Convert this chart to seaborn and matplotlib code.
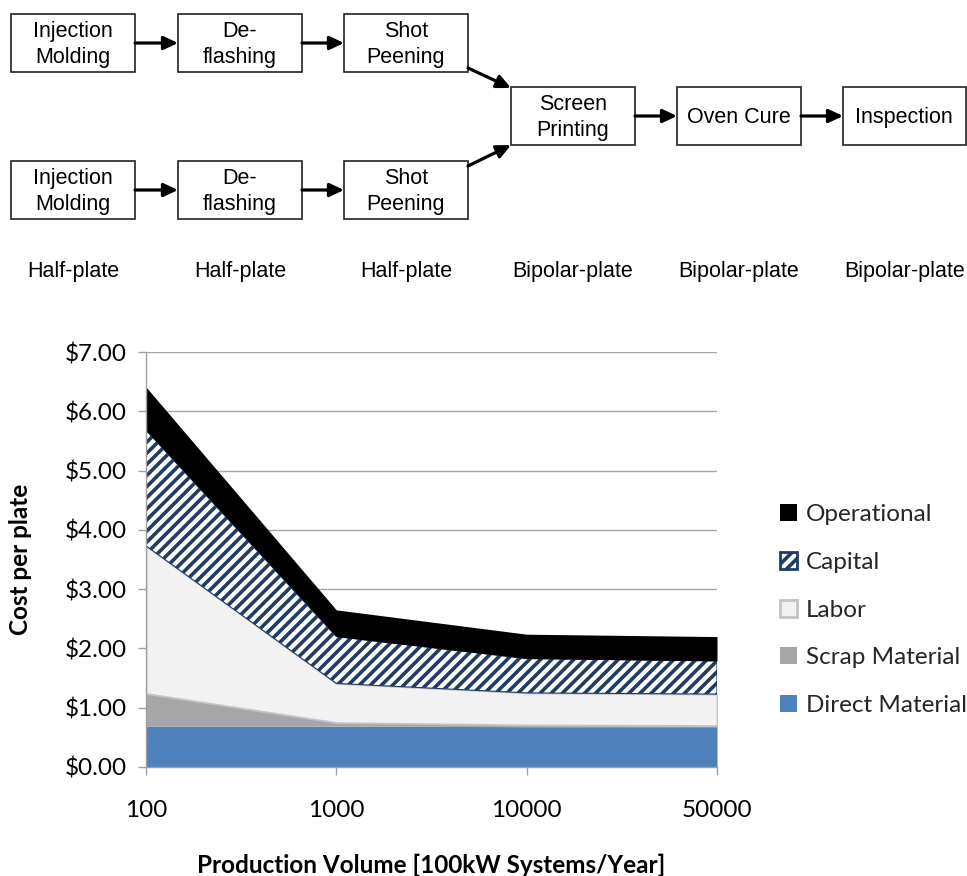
import numpy as np
import matplotlib.pyplot as plt
import seaborn as sns
from matplotlib.patches import Rectangle, Patch

# production volume categories (equally spaced on the x axis)
volumes = ["100", "1000", "10000", "50000"]

# cost per plate components, $ (stacked bottom -> top)
direct_material = [0.69, 0.69, 0.68, 0.68]
scrap_material = [0.55, 0.06, 0.03, 0.02]
labor = [2.49, 0.66, 0.54, 0.53]
capital = [1.95, 0.79, 0.58, 0.56]
operational = [0.73, 0.45, 0.41, 0.41]

layer_names = ["Direct Material", "Scrap Material", "Labor", "Capital", "Operational"]
y_ticks = [0, 1, 2, 3, 4, 5, 6, 7]

# process flow text
half_steps = ["Injection\nMolding", "De-\nflashing", "Shot\nPeening"]
bipolar_steps = ["Screen\nPrinting", "Oven Cure", "Inspection"]
part_labels = ["Half-plate"] * 3 + ["Bipolar-plate"] * 3

sns.set_theme(style="white")
plt.rcParams["font.family"] = ["Lato", "DejaVu Sans"]
plt.rcParams["hatch.linewidth"] = 2.6
plt.rcParams["hatch.color"] = "#1f3d63"

W, H = 967, 876
fs = 17.5
fig = plt.figure(figsize=(W / 100, H / 100), dpi=100)

# ---- process flow diagram (pixel coordinates) ----
flow = fig.add_axes([0, 0, 1, 1])
flow.set_xlim(0, W)
flow.set_ylim(H, 0)
flow.axis("off")

col_x = [11, 178, 344, 511, 677, 843]
box_w, box_h = 124, 58
rows_y = {"top": 14, "bottom": 161, "mid": 87}
diag_font = dict(family=["Liberation Sans", "DejaVu Sans"], fontsize=15.5,
                 ha="center", va="center", color="black", linespacing=1.3)
arrow_kw = dict(arrowstyle="-|>,head_length=0.85,head_width=0.4", lw=2.3,
                color="black", shrinkA=0, shrinkB=0, mutation_scale=10)


def draw_box(x, y, text, w=box_w):
    flow.add_patch(Rectangle((x, y), w, box_h, fill=False, lw=1.2, ec="#222222"))
    flow.text(x + w / 2, y + box_h / 2 + 1.5, text, **diag_font)


for row in ["top", "bottom"]:
    y = rows_y[row]
    for i, step in enumerate(half_steps):
        draw_box(col_x[i], y, step)
        if i < 2:
            flow.annotate("", xy=(col_x[i + 1], y + 29), xytext=(col_x[i] + box_w, y + 29),
                          arrowprops=arrow_kw)

for i, step in enumerate(bipolar_steps):
    x = col_x[i + 3]
    draw_box(x, rows_y["mid"], step, w=box_w if i < 2 else W - 1.5 - x)
    if i < 2:
        flow.annotate("", xy=(col_x[i + 4], rows_y["mid"] + 29),
                      xytext=(x + box_w, rows_y["mid"] + 29), arrowprops=arrow_kw)

flow.annotate("", xy=(511, 88), xytext=(468, 68), arrowprops=arrow_kw)
flow.annotate("", xy=(511, 145), xytext=(468, 166), arrowprops=arrow_kw)

for i, lbl in enumerate(part_labels):
    cx = col_x[i] + box_w / 2
    if i == 5:
        cx = (col_x[i] + W) / 2
    flow.text(cx, 271, lbl, **diag_font)

# ---- stacked area chart ----
ax = fig.add_axes([146 / W, (H - 767) / H, (717 - 146) / W, (767 - 352) / H])
x = np.arange(len(volumes))
layers = [direct_material, scrap_material, labor, capital, operational]
fills = ["#4f81bd", "#a6a6a6", "#f2f2f2", "white", "black"]
edges = ["#4f81bd", "#a6a6a6", "#c4c4c4", "#1f3d63", "black"]
hatches = [None, None, None, "///", None]
lws = [0, 0, 1.3, 0.8, 0]

base = np.zeros(len(volumes))
for vals, fc, ec, hatch, lw in zip(layers, fills, edges, hatches, lws):
    top = base + np.array(vals)
    ax.fill_between(x, base, top, facecolor=fc, edgecolor=ec, hatch=hatch,
                    linewidth=lw, zorder=2)
    base = top

ax.set_xlim(0, len(volumes) - 1)
ax.set_ylim(0, 7)
ax.set_xticks(x)
ax.set_xticklabels(volumes)
ax.set_yticks(y_ticks)
ax.set_yticklabels([f"${v:.2f}" for v in y_ticks])
ax.yaxis.grid(True, color="#a6a6a6", lw=1.0, zorder=0)
ax.set_axisbelow(True)
sns.despine(ax=ax)
for side in ["left", "bottom"]:
    ax.spines[side].set_color("#a0a0a0")
    ax.spines[side].set_linewidth(1.0)
ax.tick_params(axis="y", left=True, length=6, width=1, color="#a0a0a0",
               labelsize=fs, pad=8, labelcolor="black")
ax.tick_params(axis="x", bottom=True, length=6, width=1, color="#a0a0a0",
               labelsize=fs, pad=18, labelcolor="black")
ax.set_xlabel("Production Volume [100kW Systems/Year]", fontsize=fs,
              fontweight="bold", labelpad=23, color="black")
ax.set_ylabel("Cost per plate", fontsize=fs, fontweight="bold",
              labelpad=23, color="black")

handles = []
for name, fc, ec, hatch in zip(layer_names, fills, edges, hatches):
    handles.append(Patch(facecolor=fc, edgecolor=ec, hatch=hatch,
                         linewidth=2 if name in ("Labor", "Capital") else 0))
fig.legend(handles[::-1], layer_names[::-1], loc="upper left",
           bbox_to_anchor=(780 / W, (H - 504) / H), frameon=False,
           fontsize=fs, handlelength=0.7, handleheight=0.7,
           handletextpad=0.35, labelspacing=1.1, borderpad=0, borderaxespad=0)

fig.savefig("out.png", dpi=100)
